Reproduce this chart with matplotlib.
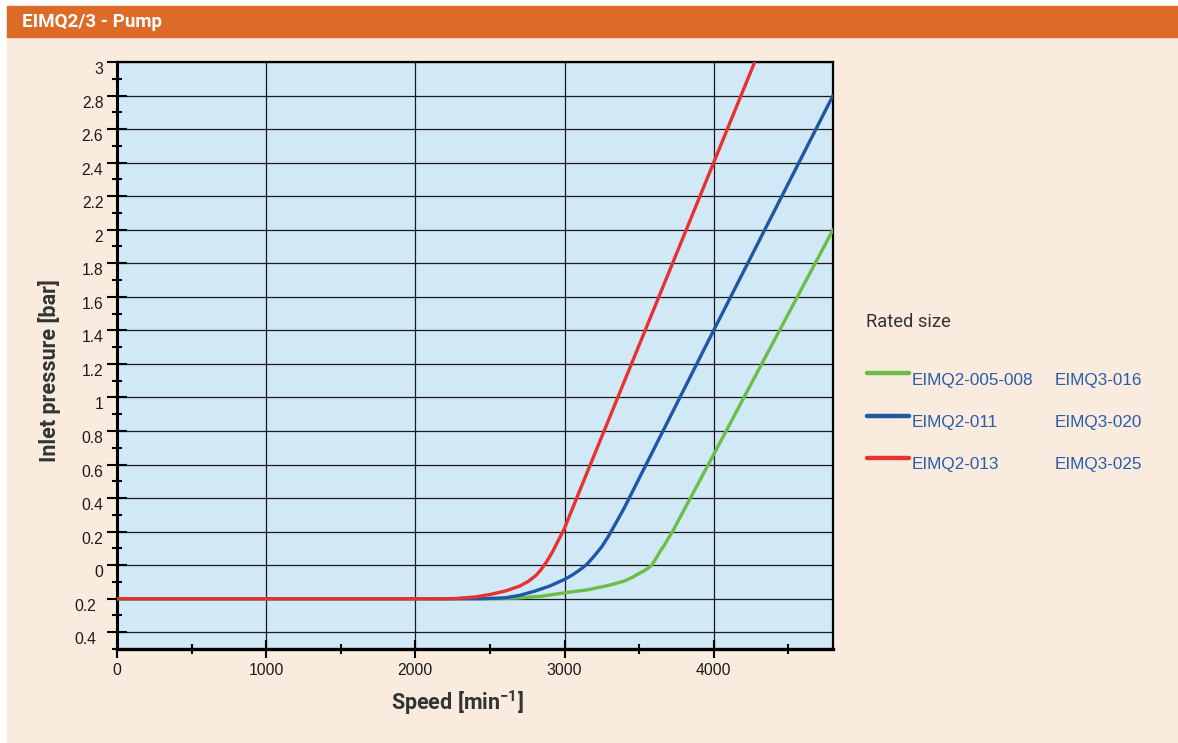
import matplotlib
matplotlib.use("Agg")
import matplotlib.pyplot as plt
import matplotlib.transforms as mtransforms
from matplotlib.lines import Line2D
from matplotlib.patches import Rectangle
from matplotlib.ticker import MultipleLocator

# ---- data -------------------------------------------------------------
sizes_q2 = ["EIMQ2-005-008", "EIMQ2-011", "EIMQ2-013"]
sizes_q3 = ["EIMQ3-016", "EIMQ3-020", "EIMQ3-025"]
series_colors = ["#6bbd45", "#1f57a6", "#e8322f"]

speed_green = [0, 2550, 2700, 2850, 3000, 3150, 3300, 3400, 3450, 3500, 3540,
               3565, 3585, 3610, 3640, 3670, 3700, 3730, 3760, 4000, 4800]
pressure_green = [-0.2, -0.2, -0.195, -0.185, -0.165, -0.148, -0.12, -0.095,
                  -0.075, -0.05, -0.03, -0.015, 0.0, 0.035, 0.08, 0.12, 0.165,
                  0.21, 0.26, 0.66, 2.0]

speed_blue = [0, 2450, 2600, 2700, 2800, 2900, 3000, 3050, 3100, 3150, 3200,
              3250, 3300, 3350, 3400, 4000, 4800]
pressure_blue = [-0.2, -0.2, -0.195, -0.18, -0.155, -0.125, -0.085, -0.06,
                 -0.03, 0.005, 0.055, 0.11, 0.18, 0.26, 0.34, 1.4, 2.8]

speed_red = [0, 2250, 2400, 2500, 2600, 2700, 2760, 2810, 2840, 2860, 2880,
             2900, 2920, 2940, 2960, 2980, 3000, 3050, 3100, 4000, 4275]
pressure_red = [-0.2, -0.2, -0.19, -0.175, -0.155, -0.125, -0.095, -0.06,
                -0.03, -0.005, 0.02, 0.05, 0.08, 0.115, 0.15, 0.185, 0.22,
                0.33, 0.44, 2.4, 3.0]

x_ticks = [0, 1000, 2000, 3000, 4000]
x_tick_labels = ["0", "1000", "2000", "3000", "4000"]
y_ticks = [-0.4, -0.2, 0, 0.2, 0.4, 0.6, 0.8, 1, 1.2, 1.4, 1.6, 1.8, 2, 2.2,
           2.4, 2.6, 2.8, 3]
y_tick_labels = ["0.4", "0.2", "0", "0.2", "0.4", "0.6", "0.8", "1", "1.2",
                 "1.4", "1.6", "1.8", "2", "2.2", "2.4", "2.6", "2.8", "3"]

title = "EIMQ2/3 - Pump"
x_label = "Speed [min$^{-1}$]"
y_label = "Inlet pressure [bar]"
legend_title = "Rated size"

# ---- layout -----------------------------------------------------------
W, H = 1178, 743
plt.rcParams["mathtext.default"] = "regular"


def fx(px):
    return px / W


def fy(py):
    return 1 - py / H


fig = plt.figure(figsize=(W / 100, H / 100), dpi=100)
fig.patch.set_facecolor("white")

beige = "#faebdf"
fig.add_artist(Rectangle((fx(7), fy(742)), fx(W) - fx(7), fy(37) - fy(742),
                         transform=fig.transFigure, color=beige, zorder=-10))
fig.add_artist(Rectangle((fx(7), fy(37)), fx(W) - fx(7), fy(6) - fy(37),
                         transform=fig.transFigure, color="#dd6a27", zorder=-9))
fig.text(fx(22), fy(22), title, color="white", fontsize=13.5,
         fontfamily="Roboto", fontweight="bold", va="center", ha="left")

left, right, top, bottom = 117, 833, 62, 649
ax = fig.add_axes([fx(left), fy(bottom), fx(right) - fx(left), fy(top) - fy(bottom)])
ax.set_facecolor("#d1e8f7")

for sx, sy, c in [(speed_green, pressure_green, series_colors[0]),
                  (speed_blue, pressure_blue, series_colors[1]),
                  (speed_red, pressure_red, series_colors[2])]:
    ax.plot(sx, sy, color=c, lw=2.4, solid_capstyle="round",
            solid_joinstyle="round", zorder=3)

ax.set_xlim(0, 4800)
ax.set_ylim(-0.5, 3.0)

tick_font = dict(fontfamily="Liberation Sans", fontsize=11.3, color="#1a1a1a")
ax.set_xticks(x_ticks, x_tick_labels, **tick_font)
ax.set_yticks(y_ticks, y_tick_labels, va="top", **tick_font)
ax.xaxis.set_minor_locator(MultipleLocator(500))
ax.yaxis.set_minor_locator(MultipleLocator(0.1))

ax.tick_params(axis="x", which="major", direction="inout", length=13,
               width=1.5, pad=3.5, color="black")
ax.tick_params(axis="x", which="minor", direction="inout", length=6.5,
               width=1.5, color="black")
ax.tick_params(axis="y", which="major", direction="inout", length=13.7,
               width=1.5, pad=3.0, color="black")
ax.tick_params(axis="y", which="minor", direction="inout", length=7,
               width=1.5, color="black")

# the two labels below zero sit a little further left
shift = mtransforms.ScaledTranslation(-7 / 100, 0, fig.dpi_scale_trans)
for lbl in ax.get_yticklabels()[:2]:
    lbl.set_transform(lbl.get_transform() + shift)

ax.grid(which="major", color="#1a1a1a", lw=0.9)
ax.set_axisbelow(True)

for side, lw in [("left", 2.2), ("bottom", 2.4), ("top", 1.6), ("right", 1.6)]:
    ax.spines[side].set_linewidth(lw)
    ax.spines[side].set_color("black")

fig.text(fx(457), fy(703), x_label, fontfamily="Roboto", fontweight="bold",
         fontsize=15.5, color="#333333", ha="center", va="center")
fig.text(fx(50), fy(371), y_label, fontfamily="Roboto", fontweight="bold",
         fontsize=15.5, color="#333333", ha="center", va="center",
         rotation=90)

# ---- legend -----------------------------------------------------------
fig.text(fx(866), fy(322), legend_title, fontfamily="Roboto", fontsize=13.2,
         color="#333333", ha="left", va="center")
row_text_y = [380, 423, 465]
row_line_y = [373, 416, 457.5]
legend_font = dict(fontfamily="Liberation Sans", fontsize=12.3,
                   color="#2a5caa", ha="left", va="center")
for i in range(len(sizes_q2)):
    fig.add_artist(Line2D([fx(867), fx(909)], [fy(row_line_y[i])] * 2,
                          transform=fig.transFigure, color=series_colors[i],
                          lw=3.2, solid_capstyle="round"))
    fig.text(fx(912), fy(row_text_y[i]), sizes_q2[i], **legend_font)
    fig.text(fx(1055), fy(row_text_y[i]), sizes_q3[i], **legend_font)

fig.savefig("out.png", dpi=100)
